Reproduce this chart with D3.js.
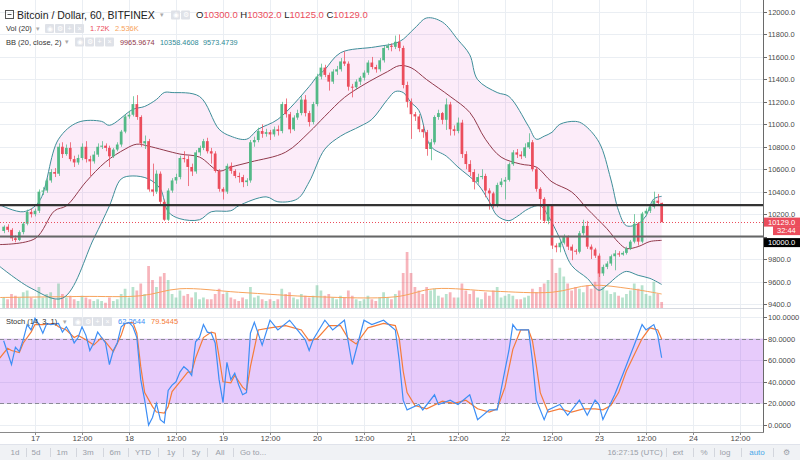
<!DOCTYPE html>
<html>
<head>
<meta charset="utf-8">
<script src="https://cdn.jsdelivr.net/npm/d3@7/dist/d3.min.js"></script>
<style>
  body { margin: 0; background: #fff; }
  svg { display: block; font-family: "Liberation Sans", Arial, sans-serif; }
</style>
</head>
<body>
<div id="chart"></div>
<script>
// hourly candles, first one opens 2018-02-16 16:00 UTC
const startTime = Date.UTC(2018, 1, 16, 16);

// [open, high, low, close]
const candles = [
  [10050,10100,10030,10088],[10088,10110,10040,10060],[10060,10075,9960,9985],[9985,10010,9950,9970],
  [9970,10055,9960,10040],[10040,10130,10020,10115],[10115,10240,10100,10220],[10220,10250,10170,10200],
  [10200,10250,10180,10230],[10230,10420,10210,10400],[10400,10440,10370,10410],[10410,10520,10390,10500],
  [10500,10600,10480,10575],[10575,10610,10530,10560],[10560,10830,10540,10800],[10800,10840,10700,10735],
  [10735,10820,10720,10790],[10790,10840,10670,10690],[10690,10720,10620,10660],[10660,10730,10640,10700],
  [10700,10830,10680,10800],[10800,10850,10660,10690],[10690,10720,10540,10670],[10670,10760,10650,10730],
  [10730,10830,10710,10800],[10800,10850,10780,10810],[10810,10830,10760,10790],[10790,10810,10620,10715],
  [10715,10790,10700,10775],[10775,10840,10760,10820],[10820,10950,10800,10935],[10935,11090,10920,11070],
  [11070,11120,11050,11085],[11085,11250,11070,11180],[11180,11260,11040,11065],[11065,11080,10800,10830],
  [10830,10900,10780,10850],[10850,10870,10400,10420],[10420,10650,10360,10400],[10400,10590,10380,10560],
  [10560,10580,10290,10310],[10310,10330,10140,10150],[10150,10430,10140,10410],[10410,10520,10390,10500],
  [10500,10560,10470,10530],[10530,10720,10510,10700],[10700,10760,10660,10690],[10690,10720,10450,10620],
  [10620,10650,10540,10580],[10580,10770,10560,10750],[10750,10810,10720,10790],[10790,10870,10770,10850],
  [10850,10880,10740,10760],[10760,10790,10650,10740],[10740,10760,10570,10585],[10585,10600,10400,10425],
  [10425,10440,10330,10400],[10400,10650,10380,10630],[10630,10660,10560,10585],[10585,10600,10520,10540],
  [10540,10570,10480,10530],[10530,10550,10440,10485],[10485,10520,10450,10500],[10500,10860,10480,10840],
  [10840,10890,10800,10860],[10860,10970,10840,10940],[10940,11000,10880,10915],[10915,10960,10890,10930],
  [10930,10950,10860,10910],[10910,10980,10890,10955],[10955,10990,10900,10940],[10940,11200,10920,11180],
  [11180,11230,11060,11090],[11090,11110,10920,10955],[10955,11080,10940,11060],[11060,11130,11040,11100],
  [11100,11250,11080,11220],[11220,11260,11070,11100],[11100,11120,10980,11020],[11020,11200,11000,11180],
  [11180,11450,11160,11425],[11425,11540,11400,11505],[11505,11530,11420,11440],[11440,11460,11300,11380],
  [11380,11490,11360,11470],[11470,11520,11440,11490],[11490,11590,11470,11560],[11560,11650,11520,11540],
  [11540,11560,11300,11335],[11335,11360,11240,11330],[11330,11400,11310,11380],[11380,11430,11350,11415],
  [11415,11480,11390,11460],[11460,11570,11440,11550],[11550,11600,11490,11510],[11510,11530,11460,11490],
  [11490,11590,11470,11570],[11570,11700,11550,11680],[11680,11720,11660,11700],[11700,11720,11650,11690],
  [11690,11790,11670,11735],[11735,11800,11650,11680],[11680,11700,11320,11350],[11350,11380,11150,11200],
  [11200,11230,10870,11090],[11090,11110,11030,11070],[11070,11090,10930,10956],[10956,10990,10880,10930],
  [10930,10950,10720,10780],[10780,10870,10680,10840],[10840,11080,10820,11065],[11065,11130,11040,11100],
  [11100,11110,11000,11040],[11040,11230,10950,11177],[11177,11200,10900,10956],[10956,10990,10900,10940],
  [10940,11060,10920,11015],[11015,11040,10700,10735],[10735,10760,10600,10646],[10646,10680,10540,10575],
  [10575,10600,10420,10487],[10487,10560,10470,10530],[10530,10600,10510,10540],[10540,10560,10350,10410],
  [10410,10430,10240,10385],[10385,10400,10250,10275],[10275,10480,10260,10460],[10460,10520,10440,10490],
  [10490,10530,10330,10505],[10505,10660,10490,10645],[10645,10770,10630,10750],[10750,10780,10700,10730],
  [10730,10760,10690,10715],[10715,10830,10700,10795],[10795,10920,10780,10840],[10840,10860,10580,10600],
  [10600,10620,10400,10425],[10425,10440,10150,10335],[10335,10350,10120,10140],[10140,10290,10110,10275],
  [10275,10290,9890,9920],[9920,9940,9860,9905],[9905,9960,9860,9945],[9945,10020,9930,10000],
  [10000,10010,9880,9910],[9910,9930,9790,9875],[9875,9890,9840,9865],[9865,10050,9850,10030],
  [10030,10150,10010,10095],[10095,10140,9890,9910],[9910,9930,9800,9885],[9885,9900,9810,9830],
  [9830,9850,9640,9672],[9672,9750,9650,9730],[9730,9780,9710,9760],[9760,9840,9740,9825],
  [9825,9880,9700,9850],[9850,9870,9820,9840],[9840,9870,9830,9855],[9855,9910,9840,9895],
  [9895,9970,9880,9955],[9955,10200,9940,10115],[10115,10130,9920,9955],[9955,10220,9940,10205],
  [10205,10250,10180,10230],[10230,10290,10210,10265],[10265,10400,10250,10320],[10320,10380,10280,10300],
  [10300,10302,10125,10129]
];

// volume, thousands
const volumes = [
  3.0,2.5,4.0,3.5,3.0,4.5,5.0,3.0,2.5,6.0, 3.0,4.0,4.5,2.5,7.0,4.0,3.0,3.5,2.5,2.0,
  3.5,3.0,2.5,2.0,2.5,2.0,1.5,3.0,2.0,2.5, 4.0,5.5,3.0,6.0,5.0,7.0,4.0,12.0,8.0,6.0,
  9.0,10.0,8.0,4.0,3.0,5.0,3.5,4.0,3.0,4.5, 2.5,3.0,2.5,2.5,4.0,5.5,4.0,4.5,3.0,2.5,
  2.0,3.0,2.5,6.0,3.0,3.5,2.5,2.0,2.5,2.0, 2.5,5.5,4.0,4.5,3.0,2.5,4.0,3.5,3.0,3.5,
  6.5,5.0,3.5,4.0,3.0,2.5,3.5,3.0,5.0,3.5, 2.5,2.0,2.5,3.5,2.5,2.0,3.0,4.5,3.0,2.5,
  4.0,5.0,10.0,16.0,10.0,6.0,5.0,4.0,6.0,5.0, 5.5,3.5,3.0,4.0,4.5,3.0,3.0,7.0,5.0,4.0,
  5.0,3.0,2.5,4.5,3.5,5.0,6.0,3.0,3.5,4.0, 3.5,2.5,2.5,3.0,3.5,5.5,4.5,6.0,7.0,8.0,
  14.0,10.0,11.5,9.0,7.0,5.0,6.0,5.5,4.5,6.5, 5.5,7.5,10.0,6.0,5.0,4.0,4.5,3.5,3.0,4.0,
  5.0,7.0,5.5,6.5,4.0,3.5,7.5,4.0,1.72
];
const volMAHours = [-1, 20, 35, 45, 60, 80, 100, 110, 125, 140, 150, 160, 168];
const volMA = [3.0, 3.3, 3.5, 5.5, 4.5, 3.2, 3.2, 5.5, 4.8, 4.5, 6.5, 5.5, 4.0];

// Bollinger bands (20, close, 2)
const bbUpperHours = [-1,5,9,14,19,25,27,33,36,39,41,43,50,55,58,62,65,70,78,80,82,86,95,101,105,108,112,116,119,121,126,129,134,136,138,140,142,146,148,152,155,157,159,162,164,166,168];
const bbUpper = [10283,10221,10310,10867,11018,11026,10991,11133,11159,11221,11283,11283,11248,10956,10894,10867,10956,11044,11336,11425,11487,11637,11690,11735,11858,11947,11911,11752,11619,11398,11283,11248,10982,10867,10894,10929,11000,11026,11000,10841,10513,10230,10097,10115,10186,10336,10358.46];
const bbMidHours = [-1,8,13,16,21,26,31,34,37,45,50,55,58,63,72,78,82,87,92,98,101,104,108,114,119,123,127,132,136,140,145,149,154,157,159,162,165,168];
const bbMid = [9929,9982,10230,10274,10487,10664,10779,10823,10805,10735,10708,10584,10619,10664,10752,10929,11071,11239,11354,11469,11522,11504,11398,11248,11106,10867,10708,10646,10619,10487,10398,10248,10071,9947,9894,9911,9956,9965.97];
const bbLowerHours = [-1,7,15,23,27,30,33,37,40,42,45,50,53,58,60,67,70,75,78,82,86,91,94,98,100,102,104,106,109,113,116,121,124,126,129,131,134,137,139,142,145,149,152,154,157,159,162,165,168];
const bbLower = [9734,9540,9451,9982,10274,10513,10540,10513,10425,10221,10159,10150,10221,10230,10274,10354,10310,10336,10487,10779,10894,10982,11044,11221,11292,11283,11195,11124,10805,10717,10619,10469,10310,10186,10142,10177,10248,10274,10186,9982,9743,9628,9522,9566,9655,9690,9655,9628,9573.47];

// Stochastic (14, 3, 1)
const stochKHours = [0,2,3,4,5,6,7,8,9,10,11,12,14,15,16,17,18,19,20,21,22,23,24,25,26,27,28,29,30,31,32,33,34,35,36,37,38,39,40,41,42,43,44,45,46,47,48,49,50,51,52,53,54,55,56,57,58,59,60,61,62,63,64,66,68,70,73,75,77,78,79,82,84,87,89,92,94,97,100,101,102,103,106,107,110,111,114,116,119,121,124,126,128,129,130,131,134,135,136,138,139,142,144,147,149,151,152,153,156,158,161,163,164,166,167,168];
const stochK = [78,56,72,68,79,93,88,99,93,85,94,93,94,86,91,85,76,81,91,83,69,76,86,81,76,56,69,76,91,94,95,91,81,42,23,0,7,20,5,2,32,37,40,49,54,51,46,77,81,93,86,85,76,42,21,58,42,48,37,28,30,85,95,74,97,88,97,88,79,69,79,97,88,97,56,97,93,97,88,60,23,14,19,14,28,19,23,19,28,5,14,14,51,69,93,88,88,60,23,5,14,19,9,23,9,23,19,5,28,46,74,93,88,93,83,62.2644];
const stochDHours = [-1,1,2,4,5,7,8,10,13,14,16,18,19,21,23,25,26,28,30,31,33,34,35,36,38,39,41,42,43,45,47,48,49,51,53,54,55,56,58,59,61,62,63,65,68,72,76,78,80,83,86,88,90,93,97,100,101,102,103,105,108,112,115,118,121,124,126,128,130,132,134,135,136,137,139,142,145,148,151,153,155,157,159,161,163,165,167,168];
const stochD = [62,71,69,67,76,86,93,93,94,91,88,81,83,79,74,81,77,68,83,94,95,85,54,30,17,12,11,17,31,40,49,49,62,81,86,85,63,40,39,46,35,32,54,88,90,92,88,78,80,92,92,80,75,90,94,92,80,50,30,18,15,22,20,23,15,12,15,35,70,88,88,78,55,30,12,15,12,15,15,14,18,30,50,65,80,90,88,79.5445];

const priceTicks = d3.range(9400, 12001, 200);
const stochTicks = [0, 20, 40, 60, 80, 100];
const hLevels = [10280, 10000];
const lastClose = 10129;

const W = 800, H = 460, plotRight = 763;
const hourMs = 3600e3;
const candleTime = i => new Date(startTime + i * hourMs);

const x = d3.scaleUtc()
  .domain([Date.UTC(2018, 1, 17), Date.UTC(2018, 1, 24)])
  .range([35, 693]);
const step = x(candleTime(1)) - x(candleTime(0));
const barW = step * 0.7;

const yPrice = d3.scaleLinear().domain([9364, 12107]).range([308, 0]);
const yVol = d3.scaleLinear().domain([0, 17]).range([308, 248.5]);
const yStoch = d3.scaleLinear().domain([0, 100]).range([425, 317]);

const up = '#53b987', down = '#eb4d5c';

const svg = d3.select('#chart').append('svg')
  .attr('width', W).attr('height', H);

const defs = svg.append('defs');
defs.append('clipPath').attr('id', 'clipPrice')
  .append('rect').attr('x', 0).attr('y', 0).attr('width', plotRight).attr('height', 308);
defs.append('clipPath').attr('id', 'clipStoch')
  .append('rect').attr('x', 0).attr('y', 309).attr('width', plotRight).attr('height', 123);

// grid
const xTicks = d3.utcHour.every(12).range(Date.UTC(2018, 1, 17), Date.UTC(2018, 1, 24, 13));
const grid = svg.append('g').attr('stroke', '#eaeef3').attr('stroke-width', 1);
xTicks.forEach(t => {
  grid.append('line').attr('x1', Math.round(x(t)) + 0.5).attr('x2', Math.round(x(t)) + 0.5)
    .attr('y1', 0).attr('y2', 432);
});
priceTicks.forEach(v => {
  grid.append('line').attr('x1', 0).attr('x2', plotRight)
    .attr('y1', Math.round(yPrice(v)) + 0.5).attr('y2', Math.round(yPrice(v)) + 0.5);
});
stochTicks.forEach(v => {
  grid.append('line').attr('x1', 0).attr('x2', plotRight)
    .attr('y1', Math.round(yStoch(v)) + 0.5).attr('y2', Math.round(yStoch(v)) + 0.5);
});

// price panel
const price = svg.append('g').attr('clip-path', 'url(#clipPrice)');

const pts = (hours, vals, ys) => hours.map((h, i) => [x(candleTime(h)), ys(vals[i])]);
const curve = d3.line().curve(d3.curveCatmullRom.alpha(0.5));
const upperPts = pts(bbUpperHours, bbUpper, yPrice);
const lowerPts = pts(bbLowerHours, bbLower, yPrice);
const fillPath = curve(upperPts) + 'L' + curve(lowerPts.slice().reverse()).slice(1) + 'Z';
price.append('path').attr('d', fillPath).attr('fill', '#e040c0').attr('fill-opacity', 0.1);

// volume
price.append('g').selectAll('rect').data(volumes).join('rect')
  .attr('x', (d, i) => x(candleTime(i)) - barW / 2)
  .attr('width', barW)
  .attr('y', d => yVol(d))
  .attr('height', d => yVol(0) - yVol(d))
  .attr('fill', (d, i) => candles[i][3] >= candles[i][0] ? up : down)
  .attr('fill-opacity', 0.42);
price.append('path').attr('d', curve(pts(volMAHours, volMA, yVol)))
  .attr('fill', 'none').attr('stroke', '#f7a35c').attr('stroke-width', 1);

// bands
price.append('path').attr('d', curve(upperPts)).attr('fill', 'none').attr('stroke', '#3e8e99').attr('stroke-width', 1);
price.append('path').attr('d', curve(lowerPts)).attr('fill', 'none').attr('stroke', '#3e8e99').attr('stroke-width', 1);
price.append('path').attr('d', curve(pts(bbMidHours, bbMid, yPrice))).attr('fill', 'none').attr('stroke', '#923a4c').attr('stroke-width', 1);

// candles
const cg = price.append('g');
cg.selectAll('line').data(candles).join('line')
  .attr('x1', (d, i) => Math.round(x(candleTime(i))) + 0.5)
  .attr('x2', (d, i) => Math.round(x(candleTime(i))) + 0.5)
  .attr('y1', d => yPrice(d[1])).attr('y2', d => yPrice(d[2]))
  .attr('stroke', d => d[3] >= d[0] ? up : down).attr('stroke-opacity', 0.75);
cg.selectAll('rect').data(candles).join('rect')
  .attr('x', (d, i) => x(candleTime(i)) - barW / 2)
  .attr('width', barW)
  .attr('y', d => yPrice(Math.max(d[0], d[3])))
  .attr('height', d => Math.max(1, Math.abs(yPrice(d[0]) - yPrice(d[3]))))
  .attr('fill', d => d[3] >= d[0] ? up : down);

// horizontal levels and last price
price.append('line').attr('x1', 0).attr('x2', plotRight)
  .attr('y1', yPrice(hLevels[0])).attr('y2', yPrice(hLevels[0]))
  .attr('stroke', '#333').attr('stroke-width', 2.2);
price.append('line').attr('x1', 0).attr('x2', plotRight)
  .attr('y1', yPrice(hLevels[1])).attr('y2', yPrice(hLevels[1]))
  .attr('stroke', '#666').attr('stroke-width', 2);
price.append('line').attr('x1', 0).attr('x2', plotRight)
  .attr('y1', Math.round(yPrice(lastClose)) + 0.5).attr('y2', Math.round(yPrice(lastClose)) + 0.5)
  .attr('stroke', down).attr('stroke-dasharray', '1,2');

// stochastic panel
const st = svg.append('g').attr('clip-path', 'url(#clipStoch)');
st.append('rect').attr('x', 0).attr('width', plotRight)
  .attr('y', yStoch(80)).attr('height', yStoch(20) - yStoch(80))
  .attr('fill', '#9c27f0').attr('fill-opacity', 0.24);
[80, 20].forEach(v => {
  st.append('line').attr('x1', 0).attr('x2', plotRight)
    .attr('y1', Math.round(yStoch(v)) + 0.5).attr('y2', Math.round(yStoch(v)) + 0.5)
    .attr('stroke', '#8a8a96').attr('stroke-dasharray', '4,3');
});
const lin = d3.line();
st.append('path').attr('d', lin(pts(stochDHours, stochD, yStoch)))
  .attr('fill', 'none').attr('stroke', '#f57c3a').attr('stroke-width', 1.2);
st.append('path').attr('d', lin(pts(stochKHours, stochK, yStoch)))
  .attr('fill', 'none').attr('stroke', '#3d8ef5').attr('stroke-width', 1.2);

// panel separators and axes
svg.append('line').attr('x1', 0).attr('x2', plotRight).attr('y1', 308.5).attr('y2', 308.5).attr('stroke', '#d6d9e0');
svg.append('line').attr('x1', plotRight + 0.5).attr('x2', plotRight + 0.5).attr('y1', 0).attr('y2', 432).attr('stroke', '#6a6a6a');
svg.append('line').attr('x1', 0).attr('x2', plotRight + 1).attr('y1', 432.5).attr('y2', 432.5).attr('stroke', '#8a8a8a');

const yLast = yPrice(lastClose);
const tags = [
  { y: yLast, x0: 764, fill: down, text: d3.format('.1f')(lastClose) },
  { y: yLast + 8.5, x0: 773, fill: down, text: '32:44' },
  { y: yLast + 20.5, x0: 764, fill: '#000', text: d3.format('.1f')(hLevels[1]) }
];

const axisText = '#4a4a4a';
const fmt1 = d3.format('.1f'), fmt4 = d3.format('.4f');
const ax = svg.append('g').attr('font-size', 7.5).attr('fill', axisText);
priceTicks.forEach(v => {
  const yy = Math.round(yPrice(v)) + 0.5;
  ax.append('line').attr('x1', plotRight).attr('x2', plotRight + 4).attr('y1', yy).attr('y2', yy).attr('stroke', '#6a6a6a');
  if (tags.some(t => Math.abs(t.y - yy) < 7)) return;
  ax.append('text').attr('x', 768).attr('y', yy).attr('dy', '0.35em').text(fmt1(v));
});
stochTicks.forEach(v => {
  const yy = Math.round(yStoch(v)) + 0.5;
  ax.append('line').attr('x1', plotRight).attr('x2', plotRight + 4).attr('y1', yy).attr('y2', yy).attr('stroke', '#6a6a6a');
  ax.append('text').attr('x', 768).attr('y', yy).attr('dy', '0.35em').text(fmt4(v));
});
xTicks.forEach(t => {
  const xx = Math.round(x(t)) + 0.5;
  ax.append('line').attr('x1', xx).attr('x2', xx).attr('y1', 432).attr('y2', 435).attr('stroke', '#8a8a8a');
  ax.append('text').attr('x', xx).attr('y', 438.5).attr('dy', '0.35em').attr('text-anchor', 'middle')
    .attr('font-size', 8).text(t.getUTCHours() === 0 ? d3.utcFormat('%-d')(t) : d3.utcFormat('%H:%M')(t));
});

// right-hand price labels
tags.forEach(t => {
  svg.append('rect').attr('x', t.x0).attr('y', t.y - 4.5).attr('width', 800 - t.x0).attr('height', 9).attr('fill', t.fill);
  svg.append('text').attr('x', t.x0 + 4).attr('y', t.y).attr('dy', '0.35em')
    .attr('font-size', 7.5).attr('fill', '#fff').text(t.text);
});

// legends
const lg = svg.append('g');
const icons = (x0, y0, n) => {
  const syms = ['◉', '⚙', '+', '×'];
  for (let k = 0; k < n; k++) {
    lg.append('rect').attr('x', x0 + k * 10).attr('y', y0 - 4.5).attr('width', 9).attr('height', 9)
      .attr('rx', 1).attr('fill', '#dfe2e8');
    lg.append('text').attr('x', x0 + k * 10 + 4.5).attr('y', y0).attr('dy', '0.35em')
      .attr('text-anchor', 'middle').attr('font-size', 7).attr('fill', '#fff').text(syms[k]);
  }
};
const caret = (x0, y0) => lg.append('text').attr('x', x0).attr('y', y0).attr('dy', '0.35em')
  .attr('font-size', 6.5).attr('fill', '#aaa').text('▾');
const label = (x0, y0, size, fill, txt) => lg.append('text').attr('x', x0).attr('y', y0)
  .attr('dy', '0.35em').attr('font-size', size).attr('fill', fill).text(txt);

// title row
lg.append('rect').attr('x', 5.5).attr('y', 10.5).attr('width', 8).attr('height', 8).attr('fill', 'none').attr('stroke', '#555');
lg.append('line').attr('x1', 7.5).attr('x2', 11.5).attr('y1', 14.5).attr('y2', 14.5).attr('stroke', '#555');
label(17, 15, 10.5, '#222', 'Bitcoin / Dollar, 60, BITFINEX');
caret(160, 15);
icons(171, 15, 2);
const ohlc = lg.append('text').attr('x', 196).attr('y', 15).attr('dy', '0.35em').attr('font-size', 9.5);
const last = candles[candles.length - 1];
['O', 'H', 'L', 'C'].forEach((k, i) => {
  ohlc.append('tspan').attr('fill', '#222').text((i ? ' ' : '') + k);
  ohlc.append('tspan').attr('fill', down).text(fmt1(last[i]));
});

// volume row
label(6, 28.5, 7.5, '#333', 'Vol (20)');
caret(36, 28.5);
icons(45, 28.5, 4);
label(90, 28.5, 7.5, down, '1.72K');
label(115, 28.5, 7.5, '#f7a35c', '2.536K');

// BB row
label(6, 42, 7.5, '#333', 'BB (20, close, 2)');
caret(65, 42);
icons(75, 42, 4);
label(120, 42, 7.3, '#923a4c', '9965.9674');
label(160, 42, 7.3, '#2f8a96', '10358.4608');
label(203, 42, 7.3, '#2f8a96', '9573.4739');

// stoch row
label(6, 321.5, 7.5, '#333', 'Stoch (14, 3, 1)');
caret(63, 321.5);
icons(73, 321.5, 4);
label(118, 321.5, 7.5, '#3d8ef5', '62.2644');
label(151, 321.5, 7.5, '#f57c3a', '79.5445');

// bottom toolbar
const tb = svg.append('g');
tb.append('rect').attr('x', 0).attr('y', 444).attr('width', W).attr('height', 16).attr('fill', '#f0f2f5');
tb.append('line').attr('x1', 0).attr('x2', W).attr('y1', 444.5).attr('y2', 444.5).attr('stroke', '#e0e3eb');
const ranges = ['1d', '5d', '1m', '3m', '6m', 'YTD', '1y', '5y', 'All', 'Go to...'];
const rangeX = [15, 36, 62, 88, 115, 143, 171, 196, 220, 253];
const sepX = [26, 50, 76, 103, 128, 158, 183, 207, 233];
ranges.forEach((r, i) => tb.append('text').attr('x', rangeX[i]).attr('y', 452).attr('dy', '0.35em')
  .attr('text-anchor', 'middle').attr('font-size', 8).attr('fill', '#9a9ea8').text(r));
const rightItems = ['16:27:15 (UTC)', 'ext', '%', 'log', 'auto', '⚙'];
const rightX = [635, 678, 704, 725, 757, 786];
const rSepX = [666, 693, 714, 741, 773];
rightItems.forEach((r, i) => tb.append('text').attr('x', rightX[i]).attr('y', 452).attr('dy', '0.35em')
  .attr('text-anchor', 'middle').attr('font-size', 8).attr('fill', r === 'auto' ? '#4aa8e8' : '#9a9ea8').text(r));
sepX.concat(rSepX).forEach(s => tb.append('line').attr('x1', s + 0.5).attr('x2', s + 0.5)
  .attr('y1', 448).attr('y2', 457).attr('stroke', '#d3d6dd'));
</script>
</body>
</html>
